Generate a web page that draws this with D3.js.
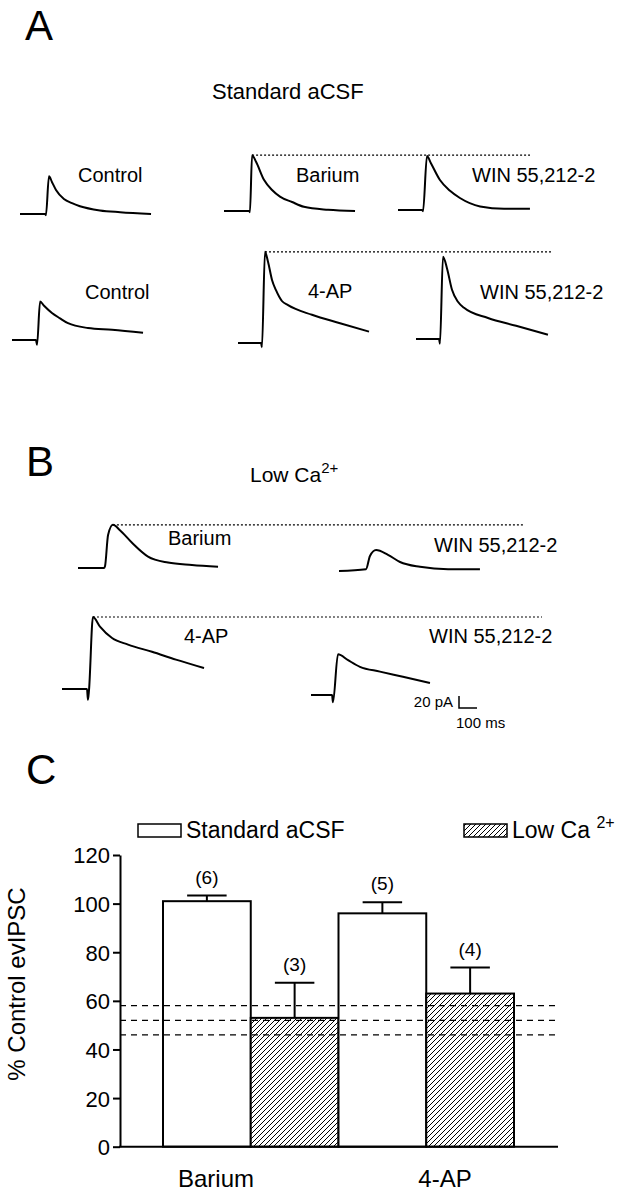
<!DOCTYPE html>
<html>
<head>
<meta charset="utf-8">
<script src="https://cdn.jsdelivr.net/npm/d3@7"></script>
<style>
  body { margin: 0; background: #fff; }
  svg { display: block; font-family: "Liberation Sans", Arial, sans-serif; }
</style>
</head>
<body>
<div id="chart-area"></div>
<script>
const WIDTH = 627
const HEIGHT = 1199

// ---- traces as [time (ms), current (pA)] from trace start ----
const traceAControl1 = [[0,0],[139,0],[144,-2],[161,63],[178,53],[200,40],[244,25],[289,18],[333,13],[444,6],[556,3],[728,0]]
const traceABarium   = [[0,0],[139,0],[144,-2],[156,93],[178,82],[222,52],[267,35],[311,24],[378,15],[444,7],[578,2],[728,0]]
const traceAWin1     = [[0,0],[133,0],[139,-2],[161,90],[183,78],[233,50],[289,32],[344,20],[456,6],[589,2],[733,2]]
const traceAControl2 = [[0,0],[133,0],[139,-8],[156,64],[178,57],[222,45],[267,36],[311,28],[422,20],[556,17],[728,12]]
const traceA4AP      = [[0,0],[128,0],[133,-7],[150,152],[167,135],[189,105],[211,88],[244,70],[278,63],[411,47],[567,33],[728,19]]
const traceAWin2     = [[0,0],[128,0],[133,-8],[150,137],[172,118],[200,82],[233,62],[267,52],[400,35],[556,22],[733,7]]
const traceBBarium   = [[0,0],[144,0],[150,3],[167,55],[194,72],[233,63],[300,42],[389,19],[500,9],[633,5],[778,2]]
const traceBWin1     = [[0,0],[150,3],[172,25],[206,35],[272,27],[339,15],[450,7],[606,3],[783,3]]
const traceB4AP      = [[0,0],[139,0],[144,-18],[150,-2],[172,120],[211,104],[278,85],[367,74],[500,62],[633,49],[789,35]]
const traceBWin2     = [[0,0],[117,0],[122,-12],[150,68],[206,58],[272,47],[383,39],[517,30],[661,20]]

// scale bar values
const scaleBarPA = 20
const scaleBarMs = 100

// ---- bar chart data ----
const drugs = ["Barium", "4-AP"]
const conditions = ["Standard aCSF", "Low Ca"]
const meanStandard = [101, 96]
const semStandard = [2.3, 4.6]
const meanLowCa = [53, 63]
const semLowCa = [14.4, 10.7]
const nStandard = [6, 5]
const nLowCa = [3, 4]
const refLines = [58, 52, 46]
const yTicks = [0, 20, 40, 60, 80, 100, 120]

const svg = d3.select("#chart-area").append("svg")
	.attr("width", WIDTH)
	.attr("height", HEIGHT)

svg.append("rect").attr("width", WIDTH).attr("height", HEIGHT).attr("fill", "#fff")

const defs = svg.append("defs")
const hatch = defs.append("pattern")
	.attr("id", "hatch")
	.attr("patternUnits", "userSpaceOnUse")
	.attr("width", 5)
	.attr("height", 5)
hatch.append("rect").attr("width", 5).attr("height", 5).attr("fill", "#fff")
hatch.append("path")
	.attr("d", "M-1,1 l2,-2 M0,5 l5,-5 M4,6 l2,-2")
	.attr("stroke", "#000")
	.attr("stroke-width", 1)

function label(x, y, txt, size, anchor) {
	return svg.append("text")
		.attr("x", x)
		.attr("y", y)
		.attr("font-size", size + "px")
		.attr("text-anchor", anchor || "start")
		.attr("fill", "#000")
		.text(txt)
}

/******************************** Traces ********************************/

const msToPx = d3.scaleLinear().domain([0, 100]).range([0, 18])
const pAToPx = d3.scaleLinear().domain([0, 20]).range([0, -12])

const traceLine = d3.line()
	.x(d => msToPx(d[0]))
	.y(d => pAToPx(d[1]))
	.curve(d3.curveMonotoneX)

function drawTrace(data, ox, oy) {
	const g = svg.append("g").attr("transform", `translate(${ox}, ${oy})`)
	g.append("path")
		.attr("d", traceLine(data))
		.attr("fill", "none")
		.attr("stroke", "#000")
		.attr("stroke-width", 2)
		.attr("stroke-linejoin", "round")
	return g
}

// dotted line level with the peak of a trace
function peakLine(data, ox, oy, xEnd) {
	const peak = data.reduce((a, b) => (b[1] > a[1] ? b : a))
	svg.append("line")
		.attr("x1", ox + msToPx(peak[0]))
		.attr("x2", xEnd)
		.attr("y1", oy + pAToPx(peak[1]))
		.attr("y2", oy + pAToPx(peak[1]))
		.attr("stroke", "#000")
		.attr("stroke-width", 1.2)
		.attr("stroke-dasharray", "2,2")
}

// panel A
label(25, 40, "A", 42)
label(212, 99, "Standard aCSF", 22)

drawTrace(traceAControl1, 20, 214)
drawTrace(traceABarium, 224, 211)
drawTrace(traceAWin1, 398, 210)
peakLine(traceABarium, 224, 211, 530)
label(78, 182, "Control", 20)
label(296, 182, "Barium", 20)
label(472, 182, "WIN 55,212-2", 20)

drawTrace(traceAControl2, 12, 340)
drawTrace(traceA4AP, 238, 343)
drawTrace(traceAWin2, 416, 339)
peakLine(traceA4AP, 238, 343, 552)
label(85, 299, "Control", 20)
label(308, 298, "4-AP", 20)
label(480, 299, "WIN 55,212-2", 20)

// panel B
label(26, 476, "B", 42)
const lowTitle = label(250, 482, "Low Ca", 21)
lowTitle.append("tspan").attr("dy", -9).attr("font-size", "15px").text("2+")

drawTrace(traceBBarium, 78, 568)
drawTrace(traceBWin1, 339, 571)
peakLine(traceBBarium, 78, 568, 524)
label(168, 545, "Barium", 20)
label(434, 552, "WIN 55,212-2", 20)

drawTrace(traceB4AP, 62, 689)
drawTrace(traceBWin2, 311, 695)
peakLine(traceB4AP, 62, 689, 542)
label(184, 643, "4-AP", 20)
label(429, 643, "WIN 55,212-2", 20)

// scale bar
const sb = svg.append("g").attr("transform", "translate(459, 708)")
sb.append("path")
	.attr("d", `M0,${pAToPx(scaleBarPA)} V0 H${msToPx(scaleBarMs)}`)
	.attr("fill", "none")
	.attr("stroke", "#000")
	.attr("stroke-width", 1.5)
label(453, 707, "20 pA", 15, "end")
label(456, 728, "100 ms", 15)

/******************************** Bar chart ********************************/

label(26, 784, "C", 42)

const y = d3.scaleLinear().domain([0, 120]).range([1146.7, 855])
const x0 = d3.scaleBand().domain(drugs).range([163, 514]).padding(0)
const x1 = d3.scaleBand().domain(conditions).range([0, x0.bandwidth()]).padding(0)

const barData = []
drugs.forEach((d, i) => {
	barData.push({ drug: d, cond: conditions[0], mean: meanStandard[i], sem: semStandard[i], n: nStandard[i] })
	barData.push({ drug: d, cond: conditions[1], mean: meanLowCa[i], sem: semLowCa[i], n: nLowCa[i] })
})

const bars = svg.append("g")
bars.selectAll("rect")
	.data(barData)
	.enter().append("rect")
	.attr("x", d => x0(d.drug) + x1(d.cond))
	.attr("y", d => y(d.mean))
	.attr("width", x1.bandwidth())
	.attr("height", d => y(0) - y(d.mean))
	.attr("fill", d => d.cond === conditions[0] ? "#fff" : "url(#hatch)")
	.attr("stroke", "#000")
	.attr("stroke-width", 2)

const capW = x1.bandwidth() * 0.45
const err = svg.append("g").attr("stroke", "#000").attr("stroke-width", 2)
barData.forEach(d => {
	const cx = x0(d.drug) + x1(d.cond) + x1.bandwidth() / 2
	err.append("line")
		.attr("x1", cx).attr("x2", cx)
		.attr("y1", y(d.mean)).attr("y2", y(d.mean + d.sem))
	err.append("line")
		.attr("x1", cx - capW / 2).attr("x2", cx + capW / 2)
		.attr("y1", y(d.mean + d.sem)).attr("y2", y(d.mean + d.sem))
	label(cx, y(d.mean + d.sem) - 12, `(${d.n})`, 19, "middle")
})

// dashed reference lines
svg.append("g").selectAll("line")
	.data(refLines)
	.enter().append("line")
	.attr("x1", 120)
	.attr("x2", 558)
	.attr("y1", d => y(d))
	.attr("y2", d => y(d))
	.attr("stroke", "#000")
	.attr("stroke-width", 1.2)
	.attr("stroke-dasharray", "6,5")

// axes
const yAxis = svg.append("g")
	.attr("transform", "translate(120, 0)")
	.call(d3.axisLeft(y).tickValues(yTicks).tickSize(7).tickSizeOuter(0).tickPadding(3))
yAxis.select(".domain").attr("stroke-width", 2)
yAxis.selectAll(".tick line").attr("stroke-width", 2)
yAxis.selectAll(".tick text")
	.attr("font-size", "22px")
	.attr("font-family", "\"Liberation Sans\", Arial, sans-serif")
	.attr("fill", "#000")
	.attr("dy", "0.36em")

svg.append("line")
	.attr("x1", 119).attr("x2", 558)
	.attr("y1", y(0)).attr("y2", y(0))
	.attr("stroke", "#000")
	.attr("stroke-width", 2)

label(216, 1187, "Barium", 24, "middle")
label(445, 1187, "4-AP", 24, "middle")

svg.append("text")
	.attr("transform", "translate(25, 984) rotate(-90)")
	.attr("font-size", "24px")
	.attr("text-anchor", "middle")
	.text("% Control evIPSC")

// legend
svg.append("rect")
	.attr("x", 138).attr("y", 824).attr("width", 43).attr("height", 13)
	.attr("fill", "#fff").attr("stroke", "#000").attr("stroke-width", 1.5)
label(186, 838, "Standard aCSF", 23)
svg.append("rect")
	.attr("x", 464).attr("y", 824).attr("width", 43).attr("height", 13)
	.attr("fill", "url(#hatch)").attr("stroke", "#000").attr("stroke-width", 1.5)
const lowLeg = label(512, 838, "Low Ca ", 23)
lowLeg.append("tspan").attr("dy", -10).attr("font-size", "16px").text("2+")
</script>
</body>
</html>
